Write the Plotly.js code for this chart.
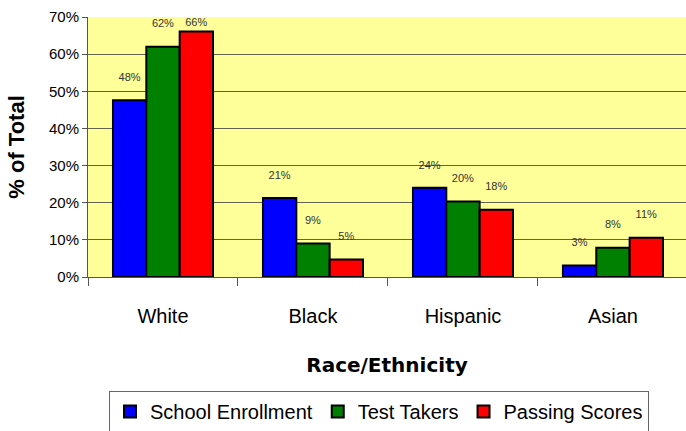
<!DOCTYPE html>
<html>
<head>
<meta charset="utf-8">
<script src="https://cdn.plot.ly/plotly-3.0.1.min.js"></script>
<style>html,body{margin:0;padding:0;background:#fff;}#chart{width:686px;height:431px;}</style>
</head>
<body>
<div id="chart"></div>
<script>
// Data
const categories = ["White", "Black", "Hispanic", "Asian"];
const schoolEnrollment = [47.6, 21.3, 24.0, 3.1];
const testTakers = [62.0, 9.0, 20.3, 7.9];
const passingScores = [66.1, 4.7, 18.1, 10.6];
const yTickValues = [0, 10, 20, 30, 40, 50, 60, 70];
const yTickLabels = ["0%", "10%", "20%", "30%", "40%", "50%", "60%", "70%"];

const seriesNames = ["School Enrollment", "Test Takers", "Passing Scores"];
const seriesValues = [schoolEnrollment, testTakers, passingScores];
const seriesColors = ["#0000FF", "#008000", "#FF0000"];
const yMax = 70;

// Labels sit a line above the bar, except where that would leave the plot area
const labelFor = v => Math.round(v) + "%" + (v > yMax - 6 ? "" : "<br>\u00a0");

const traces = seriesValues.map((vals, i) => ({
  type: "bar",
  name: seriesNames[i],
  x: categories,
  y: vals,
  marker: { color: seriesColors[i], line: { color: "#000000", width: 2 } },
  text: vals.map(labelFor),
  texttemplate: "%{text}",
  textposition: "outside",
  constraintext: "none",
  cliponaxis: false,
  textfont: { family: "Liberation Sans, Arial, sans-serif", size: 11, color: "#333333" },
  hoverinfo: "skip"
}));

const layout = {
  width: 686,
  height: 431,
  margin: { l: 88, r: 0, t: 17, b: 154, pad: 0 },
  paper_bgcolor: "#ffffff",
  plot_bgcolor: "#FFFF99",
  font: { family: "Liberation Sans, Arial, sans-serif", color: "#000000" },
  barmode: "group",
  bargap: 0.333,
  bargroupgap: 0,
  showlegend: true,
  xaxis: {
    type: "category",
    range: [-0.5, 3.487],
    tickson: "boundaries",
    ticks: "outside",
    ticklen: 8,
    tickcolor: "#555555",
    showline: true,
    linecolor: "#555555",
    linewidth: 1,
    showgrid: false,
    zeroline: false,
    tickfont: { family: "Liberation Sans, Arial, sans-serif", size: 20, color: "#000000" },
    ticklabelstandoff: 21,
    title: {
      text: "Race/Ethnicity",
      font: { family: "DejaVu Sans, Verdana, sans-serif", size: 20, color: "#000000", weight: "bold" },
      standoff: 31
    },
    fixedrange: true
  },
  yaxis: {
    range: [0, yMax],
    tickvals: yTickValues,
    ticktext: yTickLabels,
    ticks: "outside",
    ticklen: 5,
    tickcolor: "#555555",
    showline: true,
    linecolor: "#555555",
    linewidth: 1,
    showgrid: true,
    gridcolor: "#62624e",
    gridwidth: 1,
    zeroline: false,
    tickfont: { family: "Liberation Sans, Arial, sans-serif", size: 15, color: "#000000" },
    title: {
      text: "% of Total",
      font: { family: "Liberation Sans, Arial, sans-serif", size: 22, color: "#000000", weight: "bold" },
      standoff: 18
    },
    fixedrange: true
  },
  legend: {
    orientation: "h",
    xref: "container",
    yref: "container",
    x: 109 / 686,
    y: 1 - 391 / 431,
    xanchor: "left",
    yanchor: "top",
    bgcolor: "#ffffff",
    bordercolor: "#666666",
    borderwidth: 1,
    font: { family: "Liberation Sans, Arial, sans-serif", size: 20, color: "#000000" },
    traceorder: "normal"
  }
};

Plotly.newPlot("chart", traces, layout, { displayModeBar: false, staticPlot: true });
</script>
</body>
</html>
